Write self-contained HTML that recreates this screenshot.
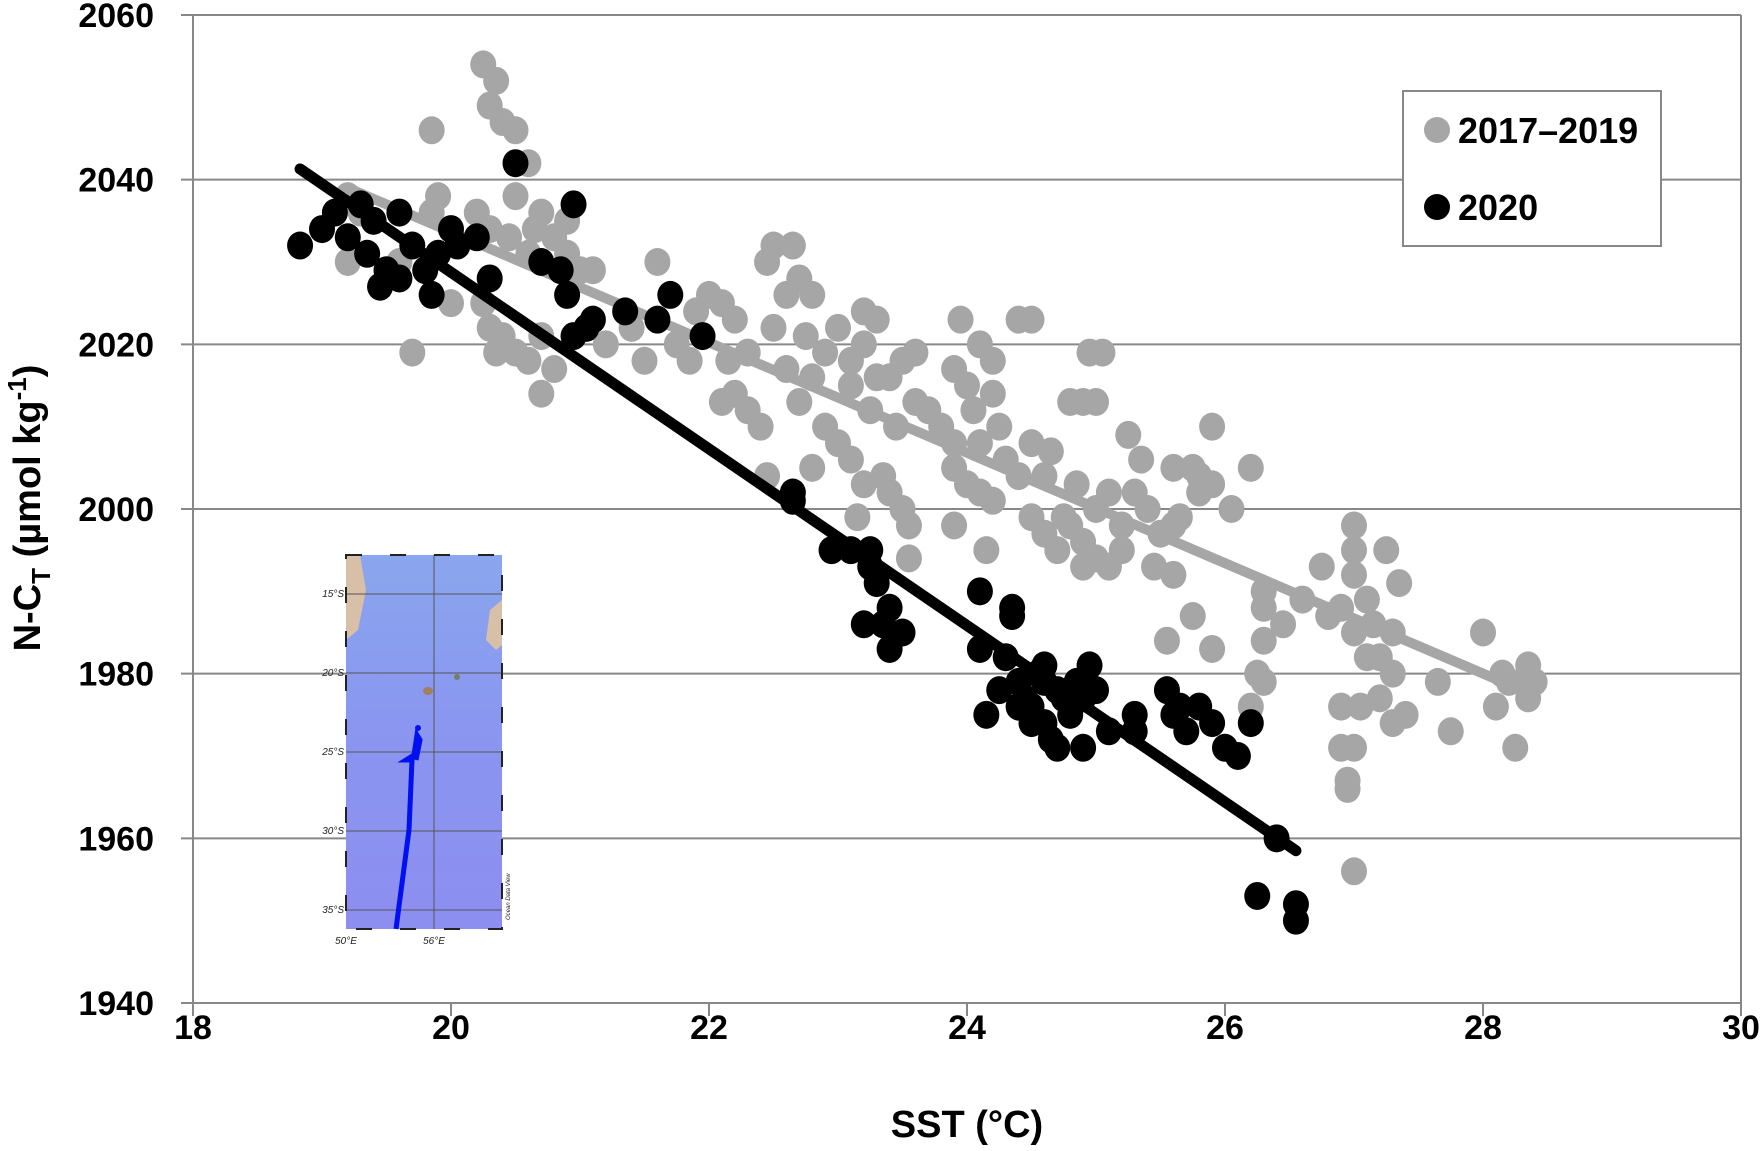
<!DOCTYPE html>
<html><head><meta charset="utf-8"><style>
body{margin:0;background:#fff}
svg{display:block;font-family:"Liberation Sans",sans-serif}
</style></head><body>
<svg id="chart" width="1764" height="1151" viewBox="0 0 1764 1151" xmlns="http://www.w3.org/2000/svg">
<g id="grid"></g>
<g id="inset">
  <defs>
    <linearGradient id="sea" x1="0" y1="0" x2="0" y2="1">
      <stop offset="0" stop-color="#8aa6ee"/><stop offset="0.45" stop-color="#8a96f0"/><stop offset="1" stop-color="#8c8ef0"/>
    </linearGradient>
  </defs>
  <rect x="346" y="555" width="156" height="374" fill="url(#sea)"/>
  <path d="M346 555 L360 555 L366 590 L358 630 L346 640 Z" fill="#d8c0a8"/>
  <path d="M502 600 L490 610 L486 640 L496 650 L502 645 Z" fill="#d8c0a8"/>
  <ellipse cx="428" cy="691" rx="5" ry="4" fill="#a08060"/>
  <ellipse cx="457" cy="677" rx="3" ry="3" fill="#708060"/>
  <g stroke="#555" stroke-width="1" fill="none">
    <line x1="434" y1="555" x2="434" y2="929"/>
    <line x1="346" y1="594" x2="502" y2="594"/>
    <line x1="346" y1="673" x2="502" y2="673"/>
    <line x1="346" y1="752" x2="502" y2="752"/>
    <line x1="346" y1="831" x2="502" y2="831"/>
    <line x1="346" y1="910" x2="502" y2="910"/>
  </g>
  <rect x="346" y="555" width="156" height="374" fill="none" stroke="#222" stroke-width="2" stroke-dasharray="16 28"/>
  <path d="M396 929 L409 830 L412 760 L406 760 L414 755 L417 735 L420 740 L416 760" stroke="#0010f0" stroke-width="5" fill="none"/>
  <circle cx="418" cy="728" r="3" fill="#0010f0"/>
  <g font-size="10" fill="#222" font-style="italic">
    <text x="344" y="597" text-anchor="end">15°S</text>
    <text x="344" y="676" text-anchor="end">20°S</text>
    <text x="344" y="755" text-anchor="end">25°S</text>
    <text x="344" y="834" text-anchor="end">30°S</text>
    <text x="344" y="913" text-anchor="end">35°S</text>
    <text x="346" y="944" text-anchor="middle">50°E</text>
    <text x="434" y="944" text-anchor="middle">56°E</text>
    <text x="510" y="920" font-size="6" transform="rotate(-90 510 920)">Ocean Data View</text>
  </g>
</g>
<g id="marks"></g>
<g id="axes"></g>
<g id="legend">
  <rect x="1403" y="91" width="258" height="155" fill="#fff" stroke="#888" stroke-width="2"/>
  <circle cx="1437" cy="130" r="13" fill="#a6a6a6"/>
  <text x="1458" y="143" font-size="36" font-weight="bold">2017–2019</text>
  <circle cx="1437" cy="207" r="13" fill="#000"/>
  <text x="1458" y="220" font-size="36" font-weight="bold">2020</text>
</g>
<text x="967" y="1137" font-size="38" font-weight="bold" text-anchor="middle">SST (°C)</text>
<text transform="translate(40 508) rotate(-90)" font-size="38" font-weight="bold" text-anchor="middle">N-C<tspan font-size="26" dy="10">T</tspan><tspan dy="-10"> (µmol kg</tspan><tspan font-size="26" dy="-14">-1</tspan><tspan dy="14">)</tspan></text>
</svg>
<script>
const xTicks=[18,20,22,24,26,28,30];
const yTicks=[1940,1960,1980,2000,2020,2040,2060];
const grayX=[20.25,20.35,20.3,20.4,20.5,19.85,20.6,20.5,20.7,20.65,19.9,19.85,20.2,20.3,20.45,19.2,19.3,19.2,19.6,20.6,20.8,20.9,20.9,21.0,21.1,20.0,20.3,20.4,20.35,20.5,20.6,20.7,20.8,20.7,19.7,20.25,21.2,21.4,21.5,21.6,21.75,21.85,21.9,22.0,22.1,22.2,22.15,22.3,22.1,22.2,22.3,22.4,22.5,22.45,22.5,22.65,22.6,22.7,22.8,22.75,22.6,22.7,22.8,22.9,23.0,23.1,23.2,23.3,23.1,23.2,23.3,23.25,23.4,23.5,23.6,23.45,23.6,23.7,23.8,22.9,23.0,22.8,23.1,23.2,23.35,23.4,23.5,23.55,23.55,23.15,22.45,23.95,24.1,24.2,24.2,23.9,24.0,24.05,24.25,24.1,23.9,23.9,24.0,24.1,24.3,24.4,24.2,24.4,24.5,24.5,24.65,24.8,24.9,25.0,24.95,25.05,24.6,24.75,24.85,24.5,24.6,24.7,24.8,24.9,25.0,24.9,25.1,25.2,25.0,25.1,25.3,25.2,25.35,25.25,25.4,25.5,25.45,25.6,24.15,23.9,25.6,25.75,25.8,25.8,25.9,25.9,25.6,25.65,25.75,25.55,25.9,26.05,26.2,26.3,26.3,26.3,26.25,26.3,26.2,26.45,26.6,26.75,26.8,26.9,27.0,27.0,27.0,27.1,27.0,27.1,26.9,27.05,26.9,27.0,26.95,26.95,27.0,27.15,27.2,27.2,27.25,27.3,27.35,27.3,27.3,27.4,27.65,27.75,28.0,28.15,28.1,28.25,28.3,28.35,28.4,28.35,28.2];
const grayY=[2054,2052,2049,2047,2046,2046,2042,2038,2036,2034,2038,2036,2036,2034,2033,2038,2036,2030,2030,2031,2033,2035,2031,2029,2029,2025,2022,2021,2019,2019,2018,2021,2017,2014,2019,2025,2020,2022,2018,2030,2020,2018,2024,2026,2025,2023,2018,2019,2013,2014,2012,2010,2022,2030,2032,2032,2026,2028,2026,2021,2017,2013,2016,2019,2022,2018,2024,2023,2015,2020,2016,2012,2016,2018,2019,2010,2013,2012,2010,2010,2008,2005,2006,2003,2004,2002,2000,1998,1994,1999,2004,2023,2020,2018,2014,2017,2015,2012,2010,2008,2008,2005,2003,2002,2006,2004,2001,2023,2023,2008,2007,2013,2013,2013,2019,2019,2004,1999,2003,1999,1997,1995,1998,1996,1994,1993,1993,1995,2000,2002,2002,1998,2006,2009,2000,1997,1993,1992,1995,1998,2005,2005,2004,2002,2003,2010,1998,1999,1987,1984,1983,2000,2005,1990,1988,1984,1980,1979,1976,1986,1989,1993,1987,1988,1998,1995,1992,1989,1985,1982,1976,1976,1971,1971,1967,1966,1956,1986,1982,1977,1995,1985,1991,1980,1974,1975,1979,1973,1985,1980,1976,1971,1979,1981,1979,1977,1979];
const blackX=[18.83,19.0,19.1,19.2,19.3,19.4,19.35,19.45,19.5,19.6,19.7,19.6,19.8,19.85,19.9,20.0,20.05,20.2,20.3,20.5,20.7,20.85,20.9,20.95,20.95,21.05,21.1,21.35,21.6,21.7,21.95,22.65,22.65,22.95,23.1,23.25,23.25,23.2,23.35,23.4,23.5,23.4,23.3,24.1,24.1,24.3,24.35,24.35,24.15,24.25,24.4,24.45,24.5,24.55,24.6,24.6,24.7,24.75,24.8,24.7,24.85,24.9,24.95,24.9,24.5,24.65,25.1,25.3,25.3,25.55,25.6,25.7,25.8,25.65,25.9,26.0,26.1,26.2,26.4,26.25,26.55,26.55,24.4,24.6,25.0];
const blackY=[2032,2034,2036,2033,2037,2035,2031,2027,2029,2036,2032,2028,2029,2026,2031,2034,2032,2033,2028,2042,2030,2029,2026,2037,2021,2022,2023,2024,2023,2026,2021,2002,2001,1995,1995,1995,1993,1986,1986,1988,1985,1983,1991,1990,1983,1982,1988,1987,1975,1978,1979,1977,1976,1980,1981,1974,1978,1977,1975,1971,1979,1977,1981,1971,1974,1972,1973,1975,1973,1978,1975,1973,1976,1976,1974,1971,1970,1974,1960,1953,1952,1950,1976,1979,1978];
const grayFitX=[19.2,28.3];
const grayFitY=[2039,1978];
const blackFitX=[18.83,26.55];
const blackFitY=[2041.3,1958.5];

const X0=193,X1=1741,Y0=15,Y1=1003;
const xs=v=>X0+(v-18)/(30-18)*(X1-X0);
const ys=v=>Y1-(v-1940)/(2060-1940)*(Y1-Y0);
const NS='http://www.w3.org/2000/svg';
function mk(tag,attrs,parent){const e=document.createElementNS(NS,tag);for(const k in attrs)e.setAttribute(k,attrs[k]);parent.appendChild(e);return e;}
const grid=document.getElementById('grid'),marks=document.getElementById('marks'),axes=document.getElementById('axes');
yTicks.forEach(t=>{
  if(t>1940){const g=mk('line',{x1:X0-12,x2:X1,y1:ys(t),y2:ys(t),stroke:'#888','stroke-width':2},grid);
  
  }
  const tx=mk('text',{x:154,y:ys(t)+12,'font-size':34,'font-weight':'bold','text-anchor':'end'},axes);
  tx.textContent=t;
  
  
});
const ya=mk('line',{x1:X0,x2:X0,y1:Y0,y2:Y1,stroke:'#888','stroke-width':2},axes);


const yr=mk('line',{x1:X1,x2:X1,y1:Y0,y2:Y1,stroke:'#888','stroke-width':2},axes);


const xa=mk('line',{x1:X0-12,x2:X1,y1:Y1,y2:Y1,stroke:'#888','stroke-width':2},axes);


xTicks.forEach(t=>{
  const tk=mk('line',{x1:xs(t),x2:xs(t),y1:Y1,y2:Y1+13,stroke:'#888','stroke-width':2},axes);
  
  
  const tx=mk('text',{x:xs(t),y:1039,'font-size':34,'font-weight':'bold','text-anchor':'middle'},axes);
  tx.textContent=t;
  
  
});
grayX.forEach((x,i)=>{
  const c=mk('ellipse',{cx:xs(x),cy:ys(grayY[i]),rx:13,ry:14,fill:'#a6a6a6'},marks);
  
  
});
const gl=mk('line',{x1:xs(grayFitX[0]),y1:ys(grayFitY[0]),x2:xs(grayFitX[1]),y2:ys(grayFitY[1]),stroke:'#a6a6a6','stroke-width':10,'stroke-linecap':'round'},marks);


blackX.forEach((x,i)=>{
  const c=mk('ellipse',{cx:xs(x),cy:ys(blackY[i]),rx:13,ry:14,fill:'#000'},marks);
  
  
});
const bl=mk('line',{x1:xs(blackFitX[0]),y1:ys(blackFitY[0]),x2:xs(blackFitX[1]),y2:ys(blackFitY[1]),stroke:'#000','stroke-width':11,'stroke-linecap':'round'},marks);


</script>
</body></html>
